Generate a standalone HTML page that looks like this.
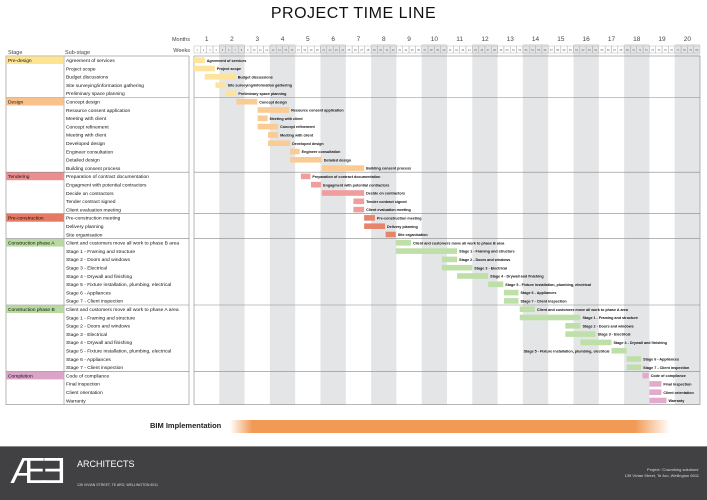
<!DOCTYPE html>
<html><head><meta charset="utf-8">
<style>
body{margin:0;width:707px;height:499px;background:#fff;overflow:hidden;font-family:"Liberation Sans",Arial,sans-serif;position:relative}
.abs{position:absolute}
</style></head>
<body>
<div class="abs" style="left:0;width:707px;top:5px;text-align:center;font-size:16px;letter-spacing:0.5px;color:#111">PROJECT TIME LINE</div>
<svg id="g" class="abs" style="left:0;top:0" width="707" height="499"></svg>
<div class="abs" style="left:150px;top:421px;font-size:7.5px;font-weight:bold;color:#222">BIM Implementation</div>
<div class="abs" style="left:230px;top:420px;width:440px;height:13px;background:linear-gradient(90deg,rgba(240,150,80,0),#f19a55 5%,#f19a55 92%,rgba(240,150,80,0))"></div>
<div class="abs" style="left:0;top:446px;width:707px;height:53px;background:#414042;border-top:1px solid #888"></div>
<div class="abs" style="left:10px;top:451px;font-size:36px;color:#fff;font-weight:300;letter-spacing:-2px;line-height:40px">Æ<span style="display:inline-block;transform:scaleX(-1)">E</span></div>
<div class="abs" style="left:77px;top:459px;font-size:9px;color:#fff">ARCHITECTS</div>
<div class="abs" style="left:77px;top:483px;font-size:3.5px;color:#ddd">139 VIVIAN STREET, TE ARO, WELLINGTON 6011</div>
<div class="abs" style="right:8px;top:467px;font-size:4px;color:#ddd;text-align:right;line-height:6px">Project: 'Coworking solutions'<br>139 Vivian Street, Te Aro, Wellington 6011</div>
<script>
const stages=["Pre-design","Design","Tendering","Pre-construction","Construction phase A","Construction phase B","Completion"];
const stageColors=["#fde491","#f9c18b","#ec8e8e","#e67963","#b8da9f","#b8da9f","#dba3c8"];
const barColors=["#fde39c","#fbcb94","#ef9d9d","#e8846c","#bfdfa8","#bfdfa8","#e2abcd"];
const stageOf=[0,0,0,0,0,1,1,1,1,1,1,1,1,1,2,2,2,2,2,3,3,3,4,4,4,4,4,4,4,4,5,5,5,5,5,5,5,5,6,6,6,6];
const tasks=["Agreement of services","Project scope","Budget discussions","Site surveying/information gathering","Preliminary space planning",
"Concept design","Resource consent application","Meeting with client","Concept refinement","Meeting with client","Developed design","Engineer consultation","Detailed design","Building consent process",
"Preparation of contract documentation","Engagment with potential contractors","Decide on contractors","Tender contract signed","Client evaluation meeting",
"Pre-construction meeting","Delivery planning","Site organisation",
"Client and customers move all work to phase B area","Stage 1 - Framing and structure","Stage 2 - Doors and windows","Stage 3 - Electrical","Stage 4 - Drywall and finishing","Stage 5 - Fixture installation, plumbing, electrical","Stage 6 - Appliances","Stage 7 - Client inspection",
"Client and customers move all work to phase A area","Stage 1 - Framing and structure","Stage 2 - Doors and windows","Stage 3 - Electrical","Stage 4 - Drywall and finishing","Stage 5 - Fixture installation, plumbing, electrical","Stage 6 - Appliances","Stage 7 - Client inspection",
"Code of compliance","Final inspection","Client orientation","Warranty"];
const startWeek=[0,0,1.7,3.4,5.05,6.7,10.05,10.05,10.05,11.7,11.7,15.2,15.2,20.2,16.9,18.5,20.2,25.2,25.2,26.9,26.9,30.3,31.9,31.9,39.2,39.2,41.6,46.5,49,49,51.5,51.5,58.7,58.7,61.1,66,68.4,68.4,70.9,72,72,72];
const durWeeks=[1.7,3.3,4.9,1.6,1.65,3.3,5,1.6,3.25,1.6,3.5,1.5,5,6.7,1.5,1.6,6.7,1.7,1.7,1.7,3.3,1.6,2.4,9.7,2.4,4.8,4.9,2.4,2.3,2.3,2.4,9.6,2.4,4.8,4.9,2.4,2.3,2.3,1,1.9,1.9,2.7];
const labelLeft=[35];
const months=[1,2,3,4,5,6,7,8,9,10,11,12,13,14,15,16,17,18,19,20];
const NS="http://www.w3.org/2000/svg",svg=document.getElementById('g');
const X0=194,X1=700,NW=80,WW=(X1-X0)/NW,Y0=56,RH=8.3,YB=Y0+RH*tasks.length;
const xw=w=>X0+w*WW, yr=i=>Y0+i*RH;
function el(t,a,p){const e=document.createElementNS(NS,t);for(const k in a)e.setAttribute(k,a[k]);(p||svg).appendChild(e);return e;}
function tx(x,y,s,size,extra){const e=el('text',Object.assign({x:x,y:y,'font-size':size,fill:'#111','font-family':'Liberation Sans, Arial, sans-serif'},extra||{}));e.textContent=s;return e;}
months.forEach((m,i)=>{
 if(m%2==0){const r=el('rect',{x:xw(i*4),y:44,width:WW*4,height:YB-44,fill:'#e4e5e7'});
 
 }
 const t=tx(xw(i*4+2),41,String(m),6.5,{'text-anchor':'middle',fill:'#444'});
 
 
});
for(let w=0;w<NW;w++){
 const r=el('rect',{x:xw(w),y:46,width:WW,height:7,fill:'none',stroke:'#aaa','stroke-width':0.4});
 
 
 tx(xw(w+0.5),51,String(w+1),2.6,{'text-anchor':'middle',fill:'#666'});
}
tx(190,41,'Months',5.5,{'text-anchor':'end',fill:'#444'});
tx(190,52,'Weeks',5.5,{'text-anchor':'end',fill:'#444'});
tx(8,54,'Stage',5.5,{fill:'#444'});
tx(65,54,'Sub-stage',5.5,{fill:'#444'});
el('rect',{x:6,y:Y0,width:183,height:YB-Y0,fill:'none',stroke:'#888','stroke-width':0.6});
el('line',{x1:64,y1:Y0,x2:64,y2:YB,stroke:'#888','stroke-width':0.6});
el('rect',{x:X0,y:Y0,width:X1-X0,height:YB-Y0,fill:'none',stroke:'#888','stroke-width':0.6});
stages.forEach((s,si)=>{
 const first=stageOf.indexOf(si);
 const r=el('rect',{x:6.3,y:yr(first)+0.3,width:57.5,height:RH-0.6,fill:stageColors[si]});
 
 
 tx(8,yr(first)+6,s,4.9);
 if(first>0){el('line',{x1:6,y1:yr(first),x2:189,y2:yr(first),stroke:'#888','stroke-width':0.6});
 el('line',{x1:X0,y1:yr(first),x2:X1,y2:yr(first),stroke:'#888','stroke-width':0.6});}
});
tasks.forEach((t,i)=>{
 tx(66,yr(i)+6,t,4.9);
 const b=el('rect',{x:xw(startWeek[i]),y:yr(i)+1.4,width:durWeeks[i]*WW,height:5.6,fill:barColors[stageOf[i]]});
 
 
 if(labelLeft.includes(i)) tx(xw(startWeek[i])-2,yr(i)+5.8,t,3.7,{'font-weight':'bold','text-anchor':'end'});
 else tx(xw(startWeek[i]+durWeeks[i])+2,yr(i)+5.8,t,3.7,{'font-weight':'bold'});
});
</script>
</body></html>
